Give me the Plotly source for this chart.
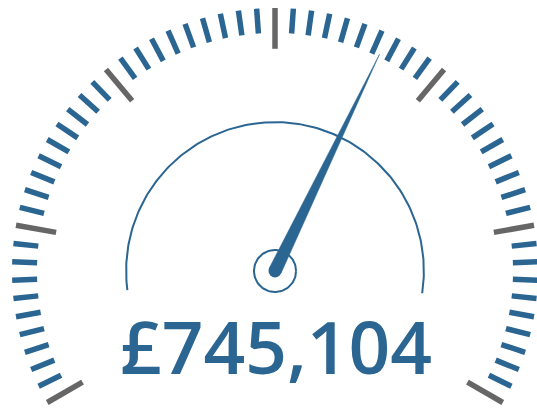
import numpy as np
import plotly.graph_objects as go

# ---- data ----
value = 745104
gauge_min = 0
gauge_max = 1227000
major_divisions = 6
minor_per_major = 10
label_text = "£745,104"

# ---- geometry / style ----
start_deg, sweep_deg = 210.0, 240.0
R_out = 1.0
minor_len, major_len = 0.095, 0.155
arc_r, arc_from, arc_to = 0.566, -8.6, 187.4
needle_r, needle_half_w = 0.915, 0.0245
hub_r = 0.080
BLUE = "#2b6592"
GREY = "#666666"


def ang(v):
    frac = (v - gauge_min) / (gauge_max - gauge_min)
    return np.radians(start_deg - frac * sweep_deg)


n_ticks = major_divisions * minor_per_major
tick_vals = np.linspace(gauge_min, gauge_max, n_ticks + 1)

fig = go.Figure()

def tick_trace(vals, length, color):
    xs, ys = [], []
    for v in vals:
        a = ang(v)
        xs += [R_out * np.cos(a), (R_out - length) * np.cos(a), None]
        ys += [R_out * np.sin(a), (R_out - length) * np.sin(a), None]
    return go.Scatter(x=xs, y=ys, mode="lines", line=dict(color=color, width=5.5),
                      hoverinfo="skip", showlegend=False)

minor_vals = [v for i, v in enumerate(tick_vals) if i % minor_per_major]
major_vals = [v for i, v in enumerate(tick_vals) if i % minor_per_major == 0]
fig.add_trace(tick_trace(minor_vals, minor_len, BLUE))
fig.add_trace(tick_trace(major_vals, major_len, GREY))

# inner arc
t = np.radians(np.linspace(arc_from, arc_to, 200))
fig.add_trace(go.Scatter(x=arc_r * np.cos(t), y=arc_r * np.sin(t), mode="lines",
                         line=dict(color=BLUE, width=2), hoverinfo="skip", showlegend=False))

# hub ring
t2 = np.linspace(0, 2 * np.pi, 100)
fig.add_trace(go.Scatter(x=hub_r * np.cos(t2), y=hub_r * np.sin(t2), mode="lines",
                         line=dict(color=BLUE, width=2), hoverinfo="skip", showlegend=False))

# needle
a = ang(value)
px, py = -np.sin(a), np.cos(a)
nx = [needle_r * np.cos(a), needle_half_w * px, -needle_half_w * px, needle_r * np.cos(a)]
ny = [needle_r * np.sin(a), needle_half_w * py, -needle_half_w * py, needle_r * np.sin(a)]
fig.add_trace(go.Scatter(x=nx, y=ny, mode="lines", fill="toself", fillcolor=BLUE,
                         line=dict(color=BLUE, width=0.5), hoverinfo="skip", showlegend=False))
fig.add_trace(go.Scatter(x=[0], y=[0], mode="markers",
                         marker=dict(color=BLUE, size=13, line=dict(width=0)),
                         hoverinfo="skip", showlegend=False))

fig.add_annotation(x=0.002, y=-0.285, xref="x", yref="y", text=label_text, showarrow=False,
                   xanchor="center", yanchor="middle",
                   font=dict(family="Open Sans", size=73, color=BLUE, weight=600))

W, H = 537, 408
scale = 263.0
cx, cy = 275.0, 271.0
fig.update_layout(
    width=W, height=H, margin=dict(l=0, r=0, t=0, b=0),
    paper_bgcolor="white", plot_bgcolor="white",
    xaxis=dict(range=[-cx / scale, (W - cx) / scale], visible=False, fixedrange=True),
    yaxis=dict(range=[-(H - cy) / scale, cy / scale], visible=False, fixedrange=True),
)
fig.write_html("out.html")
